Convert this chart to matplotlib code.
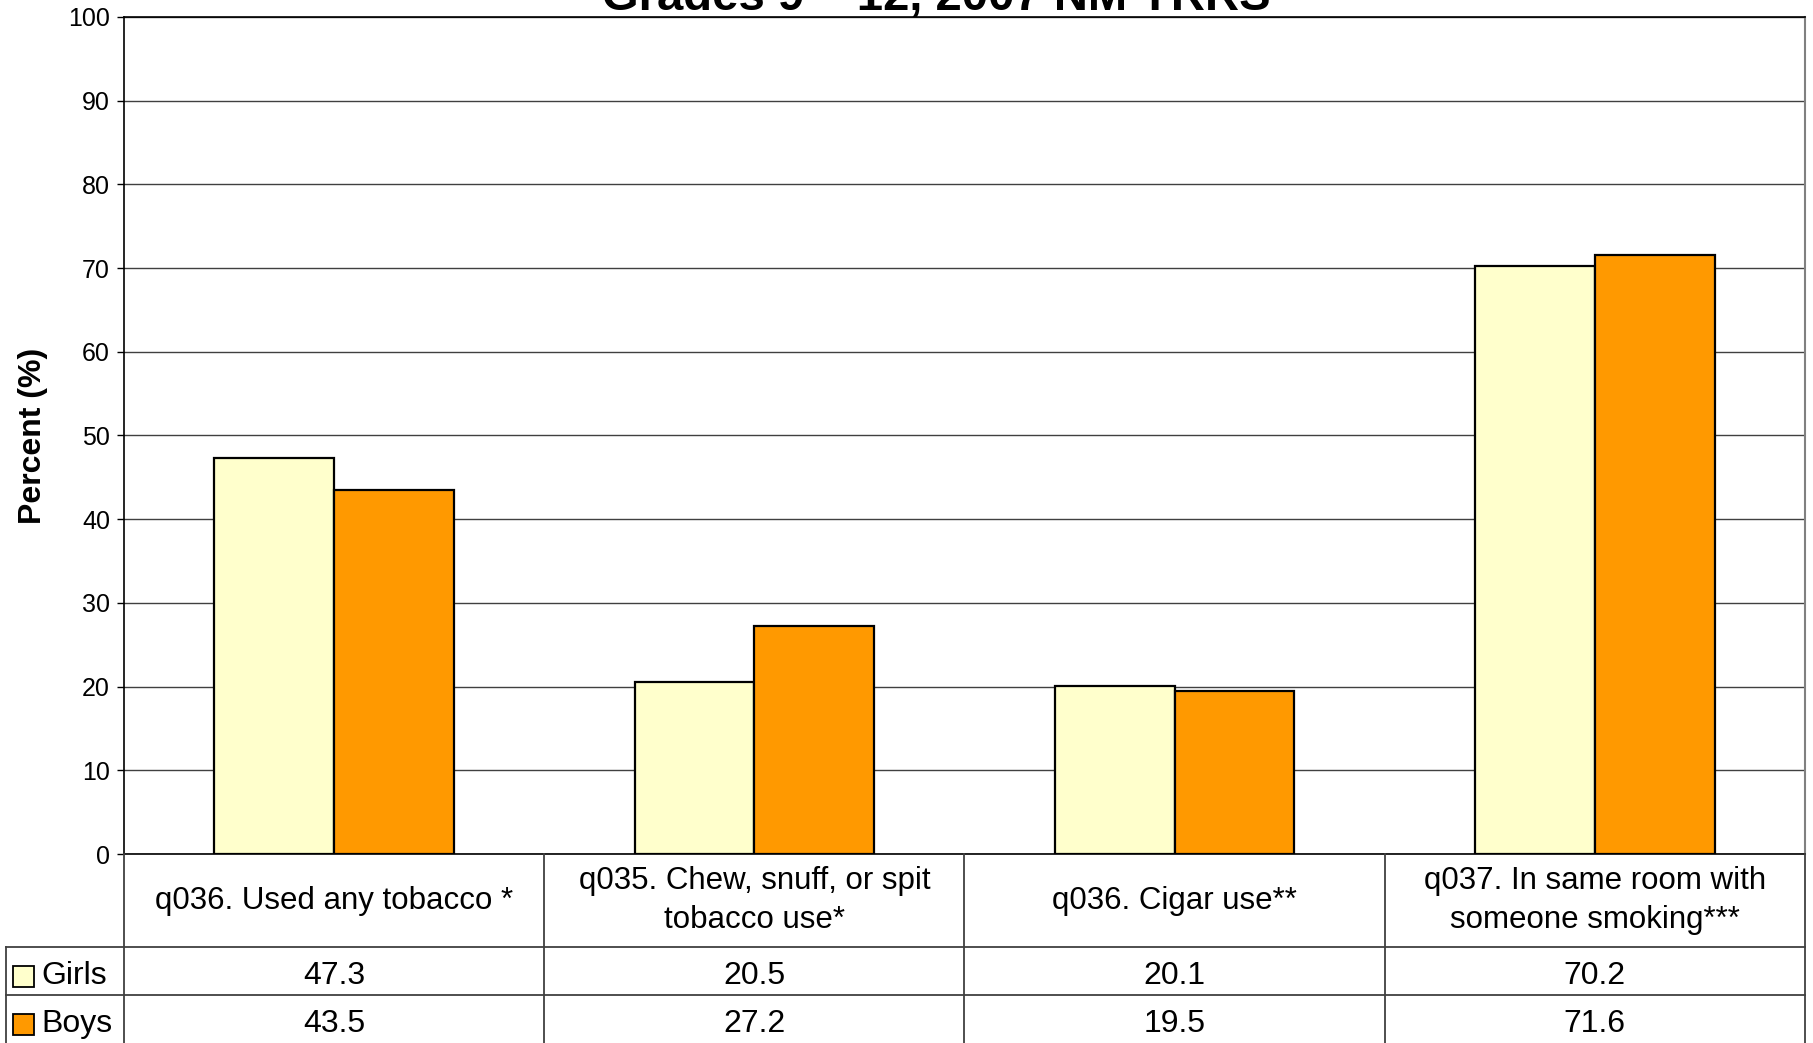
import numpy as np
import matplotlib
matplotlib.use("Agg")
import matplotlib.pyplot as plt
from matplotlib.patches import Rectangle

plt.rcParams['font.family'] = ['Liberation Sans', 'DejaVu Sans']

# data
categories = ["q036. Used any tobacco *",
              "q035. Chew, snuff, or spit\ntobacco use*",
              "q036. Cigar use**",
              "q037. In same room with\nsomeone smoking***"]
girls = [47.3, 20.5, 20.1, 70.2]
boys = [43.5, 27.2, 19.5, 71.6]
series_names = ["Girls", "Boys"]
series_colors = ["#FFFFCC", "#FF9900"]
yticks = list(range(0, 101, 10))

W, H = 1813, 1043
fig = plt.figure(figsize=(W / 100, H / 100), dpi=100)

# plot area in pixel terms
px_left, px_right, px_top, px_bottom = 124, 1805, 17, 854
ax = fig.add_axes([px_left / W, 1 - px_bottom / H,
                   (px_right - px_left) / W, (px_bottom - px_top) / H])

x = np.arange(len(categories))
bw = 0.285
ax.bar(x - bw / 2, girls, bw, color=series_colors[0], edgecolor="black", linewidth=1.6, zorder=3)
ax.bar(x + bw / 2, boys, bw, color=series_colors[1], edgecolor="black", linewidth=1.6, zorder=3)

ax.set_xlim(-0.5, len(categories) - 0.5)
ax.set_ylim(0, 100)
ax.set_yticks(yticks)
ax.tick_params(axis="y", direction="out", length=5, width=1, labelsize=18, pad=5)
ax.set_xticks([])
ax.yaxis.grid(True, color="#404040", linewidth=1)
ax.set_axisbelow(True)
for s in ["left", "bottom", "top"]:
    ax.spines[s].set_color("black")
    ax.spines[s].set_linewidth(1.2)
ax.spines["right"].set_color("#808080")
ax.spines["right"].set_linewidth(1.5)

fig.text(33 / W, 1 - 436 / H, "Percent (%)", rotation=90, ha="center", va="center",
         fontsize=23, fontweight="bold")
# title is partly cut off at the top edge, as in the original
fig.text(936 / W, 1 - 10 / H, "Grades 9 – 12, 2007 NM YRRS", ha="center", va="baseline",
         fontsize=34, fontweight="bold")

# data table under the chart
tb_left = 6
ax_t = fig.add_axes([tb_left / W, 0, (px_right - tb_left) / W, (H - px_bottom) / H])
unit = (px_right - px_left) / len(categories)
x0 = -0.5 - (px_left - tb_left) / unit
ax_t.set_xlim(x0, len(categories) - 0.5)
ax_t.set_ylim(H - px_bottom, 0)
ax_t.axis("off")

row_h = [93, 48, 48]
row_y = np.cumsum([0] + row_h)
lc = "#404040"
for i in range(len(categories) + 1):
    ax_t.plot([i - 0.5, i - 0.5], [0, row_y[-1]], color=lc, lw=1.3, clip_on=False)
ax_t.plot([x0, x0], [row_y[1], row_y[-1]], color=lc, lw=1.3, clip_on=False)
for yy in row_y[1:3]:
    ax_t.plot([x0, len(categories) - 0.5], [yy, yy], color=lc, lw=1.3, clip_on=False)

for i, c in enumerate(categories):
    ax_t.text(i, (row_y[0] + row_y[1]) / 2, c, ha="center", va="center",
              fontsize=22.5, linespacing=1.4)
for r, vals in enumerate([girls, boys]):
    yc = (row_y[r + 1] + row_y[r + 2]) / 2
    for i, v in enumerate(vals):
        ax_t.text(i, yc + 5, f"{v:.1f}", ha="center", va="center", fontsize=23)
    sq = 21 / unit
    ax_t.add_patch(Rectangle((x0 + 7 / unit, yc - 5), sq, 21, facecolor=series_colors[r],
                             edgecolor="black", lw=1.3, clip_on=False))
    ax_t.text(x0 + 35 / unit, yc + 5, series_names[r], ha="left", va="center", fontsize=23)

fig.savefig("out.png", dpi=100)
